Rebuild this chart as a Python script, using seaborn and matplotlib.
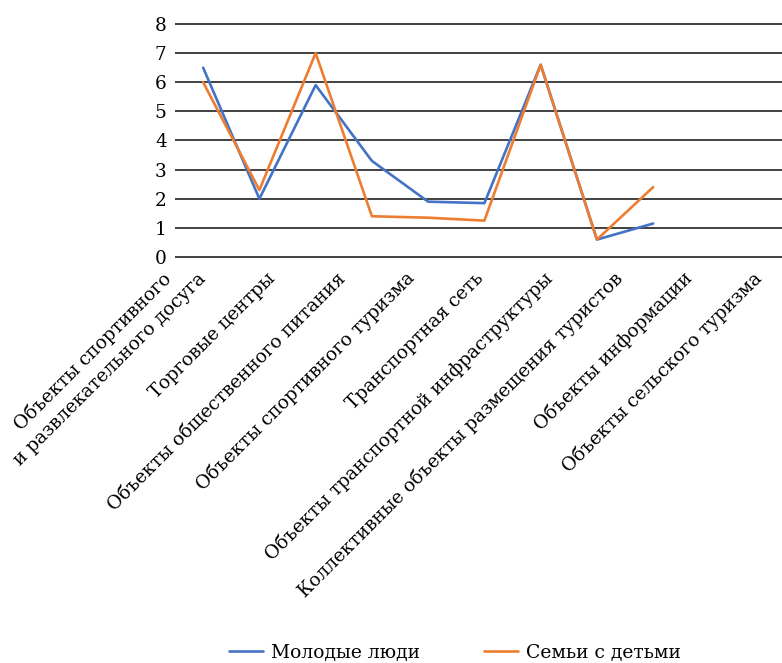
import matplotlib
matplotlib.use("Agg")
import matplotlib.pyplot as plt
import pandas as pd
import seaborn as sns

categories = [
    "Объекты спортивного\nи развлекательного досуга",
    "Торговые центры",
    "Объекты общественного питания",
    "Объекты спортивного туризма",
    "Транспортная сеть",
    "Объекты транспортной инфраструктуры",
    "Коллективные объекты размещения туристов",
    "Объекты информации",
    "Объекты сельского туризма",
]
young = [6.5, 2.0, 5.9, 3.3, 1.9, 1.85, 6.6, 0.6, 1.15]
families = [6.0, 2.3, 7.0, 1.4, 1.35, 1.25, 6.6, 0.6, 2.4]
series_names = ["Молодые люди", "Семьи с детьми"]
colors = ["#4472C4", "#ED7D31"]

df = pd.DataFrame({
    "pos": list(range(len(categories))) * 2,
    "value": young + families,
    "series": [series_names[0]] * len(young) + [series_names[1]] * len(families),
})

sns.set_theme(style="white")
plt.rcParams["font.family"] = ["DejaVu Serif"]
plt.rcParams["text.color"] = "black"
plt.rcParams["xtick.color"] = "black"
plt.rcParams["ytick.color"] = "black"

W, H = 782, 663
fig = plt.figure(figsize=(W / 100, H / 100), dpi=100)
# plot area in pixels: left 175, right 800 (runs off the image), top 22.5, bottom 258.5
ax = fig.add_axes([175 / W, 1 - 258.5 / H, 625 / W, (258.5 - 22.5) / H])
ax.set_xlim(-0.5, 8.5)
ax.set_ylim(-0.05, 8.05)
ax.set_yticks(range(0, 9))
ax.yaxis.grid(True, color="#333333", linewidth=1.3)
ax.xaxis.grid(False)
for s in ax.spines.values():
    s.set_visible(False)
ax.set_xticks(range(len(categories)))
ax.set_xticklabels(categories, rotation=45, ha="right", va="bottom",
                   rotation_mode="anchor", multialignment="center",
                   linespacing=1.45, fontsize=13.3, color="black")
ax.tick_params(axis="x", length=0, pad=17)
ax.tick_params(axis="y", length=0, pad=6, labelsize=13.3, labelcolor="black")

# the lines sit on a narrower spacing than the category labels
ax2 = ax.twiny()
sns.lineplot(data=df, x="pos", y="value", hue="series", palette=colors,
             linewidth=1.9, ax=ax2)
ax2.set_xlim(-0.5, 10.61)
ax2.set_ylim(-0.05, 8.05)
ax2.tick_params(top=False, labeltop=False, left=False, labelleft=False)
ax2.set_xlabel("")
ax2.set_ylabel("")
for s in ax2.spines.values():
    s.set_visible(False)

handles, labels = ax2.get_legend_handles_labels()
ax2.get_legend().remove()
fig.legend(handles, labels, loc="center", bbox_to_anchor=(455 / W, 1 - 653 / H),
           ncol=2, frameon=False, fontsize=13.5, handlelength=1.8,
           handletextpad=0.45, columnspacing=3.4, labelcolor="black")

fig.savefig("out.png", dpi=100)
